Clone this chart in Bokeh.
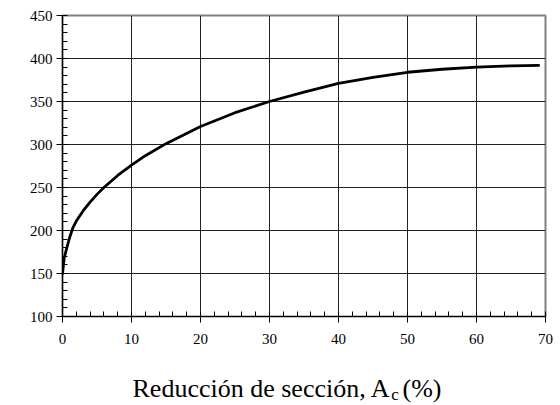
from bokeh.plotting import figure
from bokeh.models import Range1d, FixedTicker, LinearAxis, CustomJSTickFormatter
from bokeh.embed import file_html
from bokeh.resources import INLINE

# Reducción de sección (%) vs. valor medido
reduccion = [0, 0.25, 0.5, 1, 1.5, 2, 3, 4, 5, 6, 8, 10, 12, 15, 20, 25,
             30, 35, 40, 45, 50, 55, 60, 65, 69]
valor = [150, 168, 176, 191, 203, 211, 223, 233, 242, 250, 264, 276, 287, 301,
         321, 337, 350, 361, 371, 378, 384, 387.5, 390, 391.5, 392]

x_ticks = [0, 10, 20, 30, 40, 50, 60, 70]
y_ticks = [100, 150, 200, 250, 300, 350, 400, 450]
x_minor = list(range(0, 71, 2))
y_minor = list(range(100, 451, 10))

# axis title, written around the subscript "c" (non-breaking spaces keep the gap)
titulo = "Reducción de sección, A\u00a0\u00a0(%)\u00a0\u00a0\u00a0\u00a0\u00a0"
subindice = "c"
pos_subindice = [48.2]

FONT = "Liberation Serif"

p = figure(width=560, height=405, output_backend="svg", toolbar_location=None,
           x_range=Range1d(0, 70), y_range=Range1d(100, 450),
           min_border_left=62, min_border_right=15,
           min_border_top=15, min_border_bottom=87)

p.background_fill_color = "white"
p.border_fill_color = "white"
p.outline_line_color = "#808080"
p.outline_line_width = 2

# grid
p.xgrid.ticker = FixedTicker(ticks=x_ticks)
p.ygrid.ticker = FixedTicker(ticks=y_ticks)
for g in (p.xgrid, p.ygrid):
    g.grid_line_color = "#222222"
    g.grid_line_width = 1

# axes
p.xaxis.ticker = FixedTicker(ticks=x_ticks, minor_ticks=x_minor)
p.yaxis.ticker = FixedTicker(ticks=y_ticks, minor_ticks=y_minor)
for ax in (p.xaxis, p.yaxis):
    ax.axis_line_color = "black"
    ax.axis_line_width = 1.2
    ax.major_tick_line_color = "black"
    ax.minor_tick_line_color = "black"
    ax.major_tick_in = 0
    ax.major_tick_out = 6
    ax.minor_tick_in = 5
    ax.minor_tick_out = 0
    ax.major_label_text_font = FONT
    ax.major_label_text_font_style = "normal"
    ax.major_label_text_font_size = "15px"
    ax.major_label_text_color = "black"
p.xaxis.major_label_standoff = 11
p.yaxis.major_label_standoff = 4

# second bottom axis carrying the title and its subscript
eje_titulo = LinearAxis(
    ticker=FixedTicker(ticks=pos_subindice, minor_ticks=[]),
    formatter=CustomJSTickFormatter(code="return '%s'" % subindice),
    axis_line_color=None, major_tick_line_color=None, minor_tick_line_color=None,
    major_tick_in=0, major_tick_out=0, minor_tick_in=0, minor_tick_out=0,
    major_label_standoff=38,
    major_label_text_font=FONT, major_label_text_font_size="17px",
    major_label_text_color="black",
    axis_label=titulo, axis_label_standoff=-33,
    axis_label_text_font=FONT, axis_label_text_font_size="26px",
    axis_label_text_font_style="normal", axis_label_text_color="black",
)
p.add_layout(eje_titulo, "below")

p.line(reduccion, valor, line_color="black", line_width=2.8,
       line_join="round", line_cap="round")

open("out.html", "w").write(file_html(p, INLINE))
